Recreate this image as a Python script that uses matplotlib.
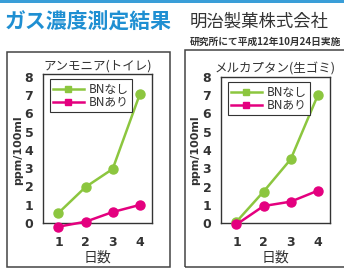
import matplotlib
matplotlib.use('Agg')
import matplotlib.pyplot as plt
import matplotlib.transforms as mtransforms
from matplotlib.lines import Line2D
from matplotlib.patches import Rectangle

plt.rcParams['font.family'] = ['Noto Sans CJK JP', 'DejaVu Sans']

# Data
days = [1, 2, 3, 4]
ammonia_no_bn = [0.55, 1.97, 2.96, 7.05]
ammonia_bn = [-0.2, 0.07, 0.6, 0.99]
mercaptan_no_bn = [0.07, 1.72, 3.49, 7.0]
mercaptan_bn = [-0.08, 0.93, 1.17, 1.77]
yticks = [0, 1, 2, 3, 4, 5, 6, 7, 8]
series_labels = ['BNなし', 'BNあり']
panel_titles = ['アンモニア(トイレ)', 'メルカプタン(生ゴミ)']

GREEN = '#8cc63f'
PINK = '#e4007f'
BLUE = '#1f8fd2'
W, H = 344., 275.


def px_rect(x0, y0, x1, y1):
    # pixel box (top-left origin) -> figure fraction [l, b, w, h]
    return [x0 / W, 1 - y1 / H, (x1 - x0) / W, (y1 - y0) / H]


fig = plt.figure(figsize=(3.44, 2.75), dpi=100)

# decorations: top blue rule and panel frames
fig.patches.append(Rectangle((0, 1 - 3 / H), 1, 3 / H, transform=fig.transFigure,
                             color='#3a9ed8', lw=0))
for (x0, y0, x1, y1) in [(7, 52, 170, 267), (185, 50, 350, 267)]:
    l, b, w, h = px_rect(x0, y0, x1, y1)
    fig.patches.append(Rectangle((l, b), w, h, transform=fig.transFigure,
                                 fill=False, ec='#444444', lw=1.1))

fig.text(5 / W, 1 - 22 / H, 'ガス濃度測定結果', color=BLUE, fontsize=15,
         fontweight='bold', va='center', ha='left')
fig.text(190 / W, 1 - 22 / H, '明治製菓株式会社', color='#333333', fontsize=12.5,
         va='center', ha='left')
fig.text(190 / W, 1 - 42 / H, '研究所にて平成12年10月24日実施', color='#333333',
         fontsize=7, fontweight='bold', va='center', ha='left')

panels = [
    (px_rect(43, 74, 152, 223), ammonia_no_bn, ammonia_bn, 8.16, 18),
    (px_rect(221, 77, 330, 223), mercaptan_no_bn, mercaptan_bn, 8.0, 195),
]

for i, (rect, no_bn, bn, ytop, ylab_x) in enumerate(panels):
    ax = fig.add_axes(rect)
    ax.plot(days, no_bn, color=GREEN, lw=1.8, marker='o', ms=6.5,
            clip_on=False, zorder=3)
    ax.plot(days, bn, color=PINK, lw=1.8, marker='o', ms=6.5,
            clip_on=False, zorder=4)
    ax.set_xlim(0.43, 4.45)
    ax.set_ylim(0, ytop)
    ax.set_xticks(days)
    ax.set_yticks(yticks)
    ax.tick_params(length=0, labelsize=9, colors='#333333')
    ax.tick_params(axis='y', pad=7)
    ax.tick_params(axis='x', pad=9.5)
    for lab in ax.get_xticklabels() + ax.get_yticklabels():
        lab.set_fontweight('bold')
        lab.set_family('DejaVu Sans')
    for sp in ax.spines.values():
        sp.set_color('#333333')
        sp.set_linewidth(1.0)
    ax.set_title(panel_titles[i], fontsize=9, color='#333333', pad=3)
    trans = mtransforms.blended_transform_factory(ax.transAxes, fig.transFigure)
    ax.text(0.5, 1 - 258 / H, '日数', transform=trans,
            ha='center', va='center', fontsize=10, color='#333333')
    fig.text(ylab_x / W, 1 - 150 / H, 'ppm/100ml', rotation=90, ha='center',
             va='center', fontsize=8, color='#333333', fontweight='bold',
             family='DejaVu Sans')
    handles = [Line2D([], [], color=GREEN, lw=1.8, marker='s', ms=5),
               Line2D([], [], color=PINK, lw=1.8, marker='s', ms=5)]
    leg = ax.legend(handles, series_labels, loc='upper left',
                    bbox_to_anchor=(0.06, 0.965), borderaxespad=0,
                    fontsize=8.5, labelspacing=0.0, borderpad=0.3,
                    handlelength=2.6, handletextpad=0.4, fancybox=False,
                    framealpha=1)
    leg.get_frame().set_edgecolor('#333333')
    leg.get_frame().set_linewidth(0.8)
    for t in leg.get_texts():
        t.set_color('#333333')

fig.savefig('out.png', dpi=100)
